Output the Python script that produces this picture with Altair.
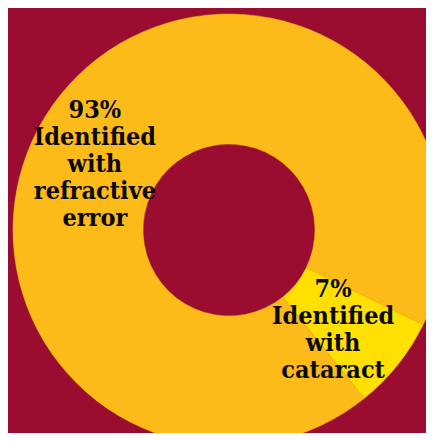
import altair as alt
import pandas as pd

categories = ["Identified with cataract", "Identified with refractive error"]
values = [7, 93]
label_text = ["7%\nIdentified\nwith\ncataract", "93%\nIdentified\nwith\nrefractive\nerror"]
colors = ["#FFE000", "#FDBB19"]
order_idx = [0, 1]

df = pd.DataFrame({"category": categories, "value": values,
                   "label": label_text, "idx": order_idx})

start = 2.0246
theta_scale = alt.Scale(type="linear", range=[start, start + 6.283185])

base = alt.Chart(df).encode(
    theta=alt.Theta("value:Q", stack=True, scale=theta_scale),
    order=alt.Order("idx:Q"),
)

arcs = base.mark_arc(outerRadius=216, innerRadius=86, stroke="#F2C200", strokeWidth=0.5).encode(
    color=alt.Color("category:N", scale=alt.Scale(domain=categories, range=colors), legend=None)
)

font = "DejaVu Serif Condensed"

def label_layer(cat, dx, dy):
    return base.mark_text(
        radius=146, font=font, fontWeight="bold", fontSize=25, lineHeight=27,
        lineBreak="\n", align="center", baseline="middle", color="#0A0A0A",
        dx=dx, dy=dy,
    ).encode(text="label:N", opacity=alt.condition(
        alt.datum.category == cat, alt.value(1), alt.value(0)))

labels_c = label_layer(categories[0], -10, -32)
labels_r = label_layer(categories[1], -20, -29)

chart = alt.layer(arcs, labels_c, labels_r).properties(
    width=394, height=406,
    padding={"left": 24, "top": 19, "right": 0, "bottom": 0},
    autosize=alt.AutoSizeParams(type="none"),
    background="#9B0D30",
).configure_view(stroke=None)

chart.save("out.html", embed_options={"renderer": "svg", "actions": False})
